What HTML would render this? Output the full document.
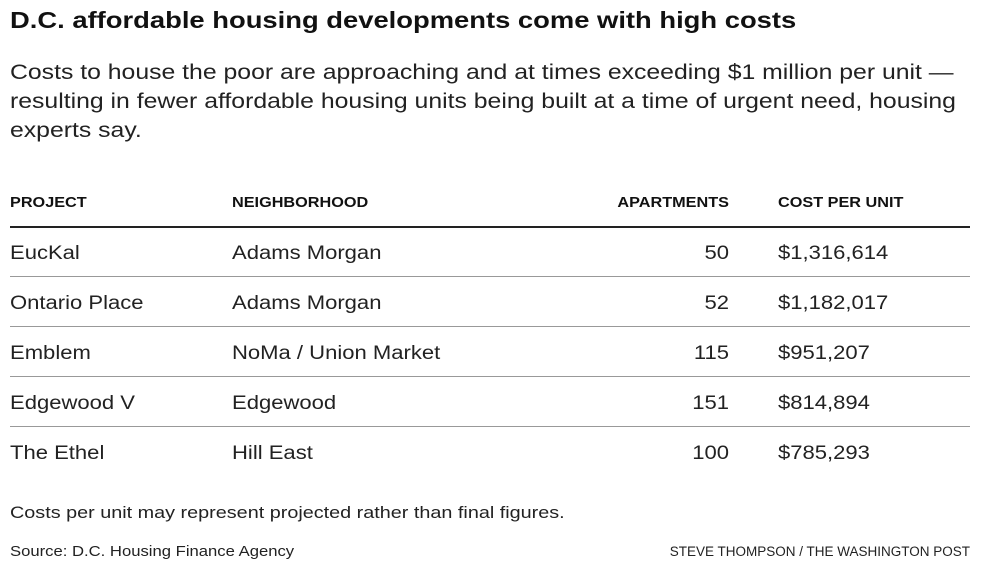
<!DOCTYPE html>
<html><head><meta charset="utf-8"><style>
body{margin:0;width:996px;height:575px;background:#fff;position:relative;font-family:"Liberation Sans",sans-serif;color:#222;overflow:hidden}
.a{position:absolute;white-space:nowrap;transform-origin:left center}
.t{left:10px;top:7px;font-size:23px;font-weight:bold;color:#111;transform:scaleX(1.19)}
.s{left:10px;top:58px;font-size:21px;line-height:29px;color:#222;transform:scaleX(1.18);transform-origin:left top}
.h{font-size:14.5px;font-weight:bold;top:195px;color:#111;transform:scaleX(1.12)}
.r{font-size:19px;color:#222;transform:scaleX(1.16)}
.ln{position:absolute;left:10px;width:960px;height:1px;background:#999}
.n{text-align:right;width:100px;left:629px;transform-origin:right center}
.f{font-size:15.5px;color:#222}
</style></head><body>
<div class="a t">D.C. affordable housing developments come with high costs</div>
<div class="a s">Costs to house the poor are approaching and at times exceeding $1 million per unit —<br>resulting in fewer affordable housing units being built at a time of urgent need, housing<br>experts say.</div>
<div class="a h" style="left:10px">PROJECT</div>
<div class="a h" style="left:232px">NEIGHBORHOOD</div>
<div class="a h n" style="left:579px;width:150px">APARTMENTS</div>
<div class="a h" style="left:778px">COST PER UNIT</div>
<div class="ln" style="top:226px;background:#222;height:1.5px"></div>

<div class="a r" style="left:10px;top:243px">EucKal</div>
<div class="a r" style="left:232px;top:243px">Adams Morgan</div>
<div class="a r n" style="top:243px">50</div>
<div class="a r" style="left:778px;top:243px">$1,316,614</div>
<div class="ln" style="top:276px"></div>

<div class="a r" style="left:10px;top:293px">Ontario Place</div>
<div class="a r" style="left:232px;top:293px">Adams Morgan</div>
<div class="a r n" style="top:293px">52</div>
<div class="a r" style="left:778px;top:293px">$1,182,017</div>
<div class="ln" style="top:326px"></div>

<div class="a r" style="left:10px;top:343px">Emblem</div>
<div class="a r" style="left:232px;top:343px">NoMa / Union Market</div>
<div class="a r n" style="top:343px">115</div>
<div class="a r" style="left:778px;top:343px">$951,207</div>
<div class="ln" style="top:376px"></div>

<div class="a r" style="left:10px;top:393px">Edgewood V</div>
<div class="a r" style="left:232px;top:393px">Edgewood</div>
<div class="a r n" style="top:393px">151</div>
<div class="a r" style="left:778px;top:393px">$814,894</div>
<div class="ln" style="top:426px"></div>

<div class="a r" style="left:10px;top:443px">The Ethel</div>
<div class="a r" style="left:232px;top:443px">Hill East</div>
<div class="a r n" style="top:443px">100</div>
<div class="a r" style="left:778px;top:443px">$785,293</div>

<div class="a f" style="left:10px;top:504px;font-size:16.5px;transform:scaleX(1.2)">Costs per unit may represent projected rather than final figures.</div>
<div class="a f" style="left:10px;top:543px;font-size:15px;transform:scaleX(1.11)">Source: D.C. Housing Finance Agency</div>
<div class="a f" style="right:26px;top:544px;font-size:13.5px">STEVE THOMPSON / THE WASHINGTON POST</div>
</body></html>
